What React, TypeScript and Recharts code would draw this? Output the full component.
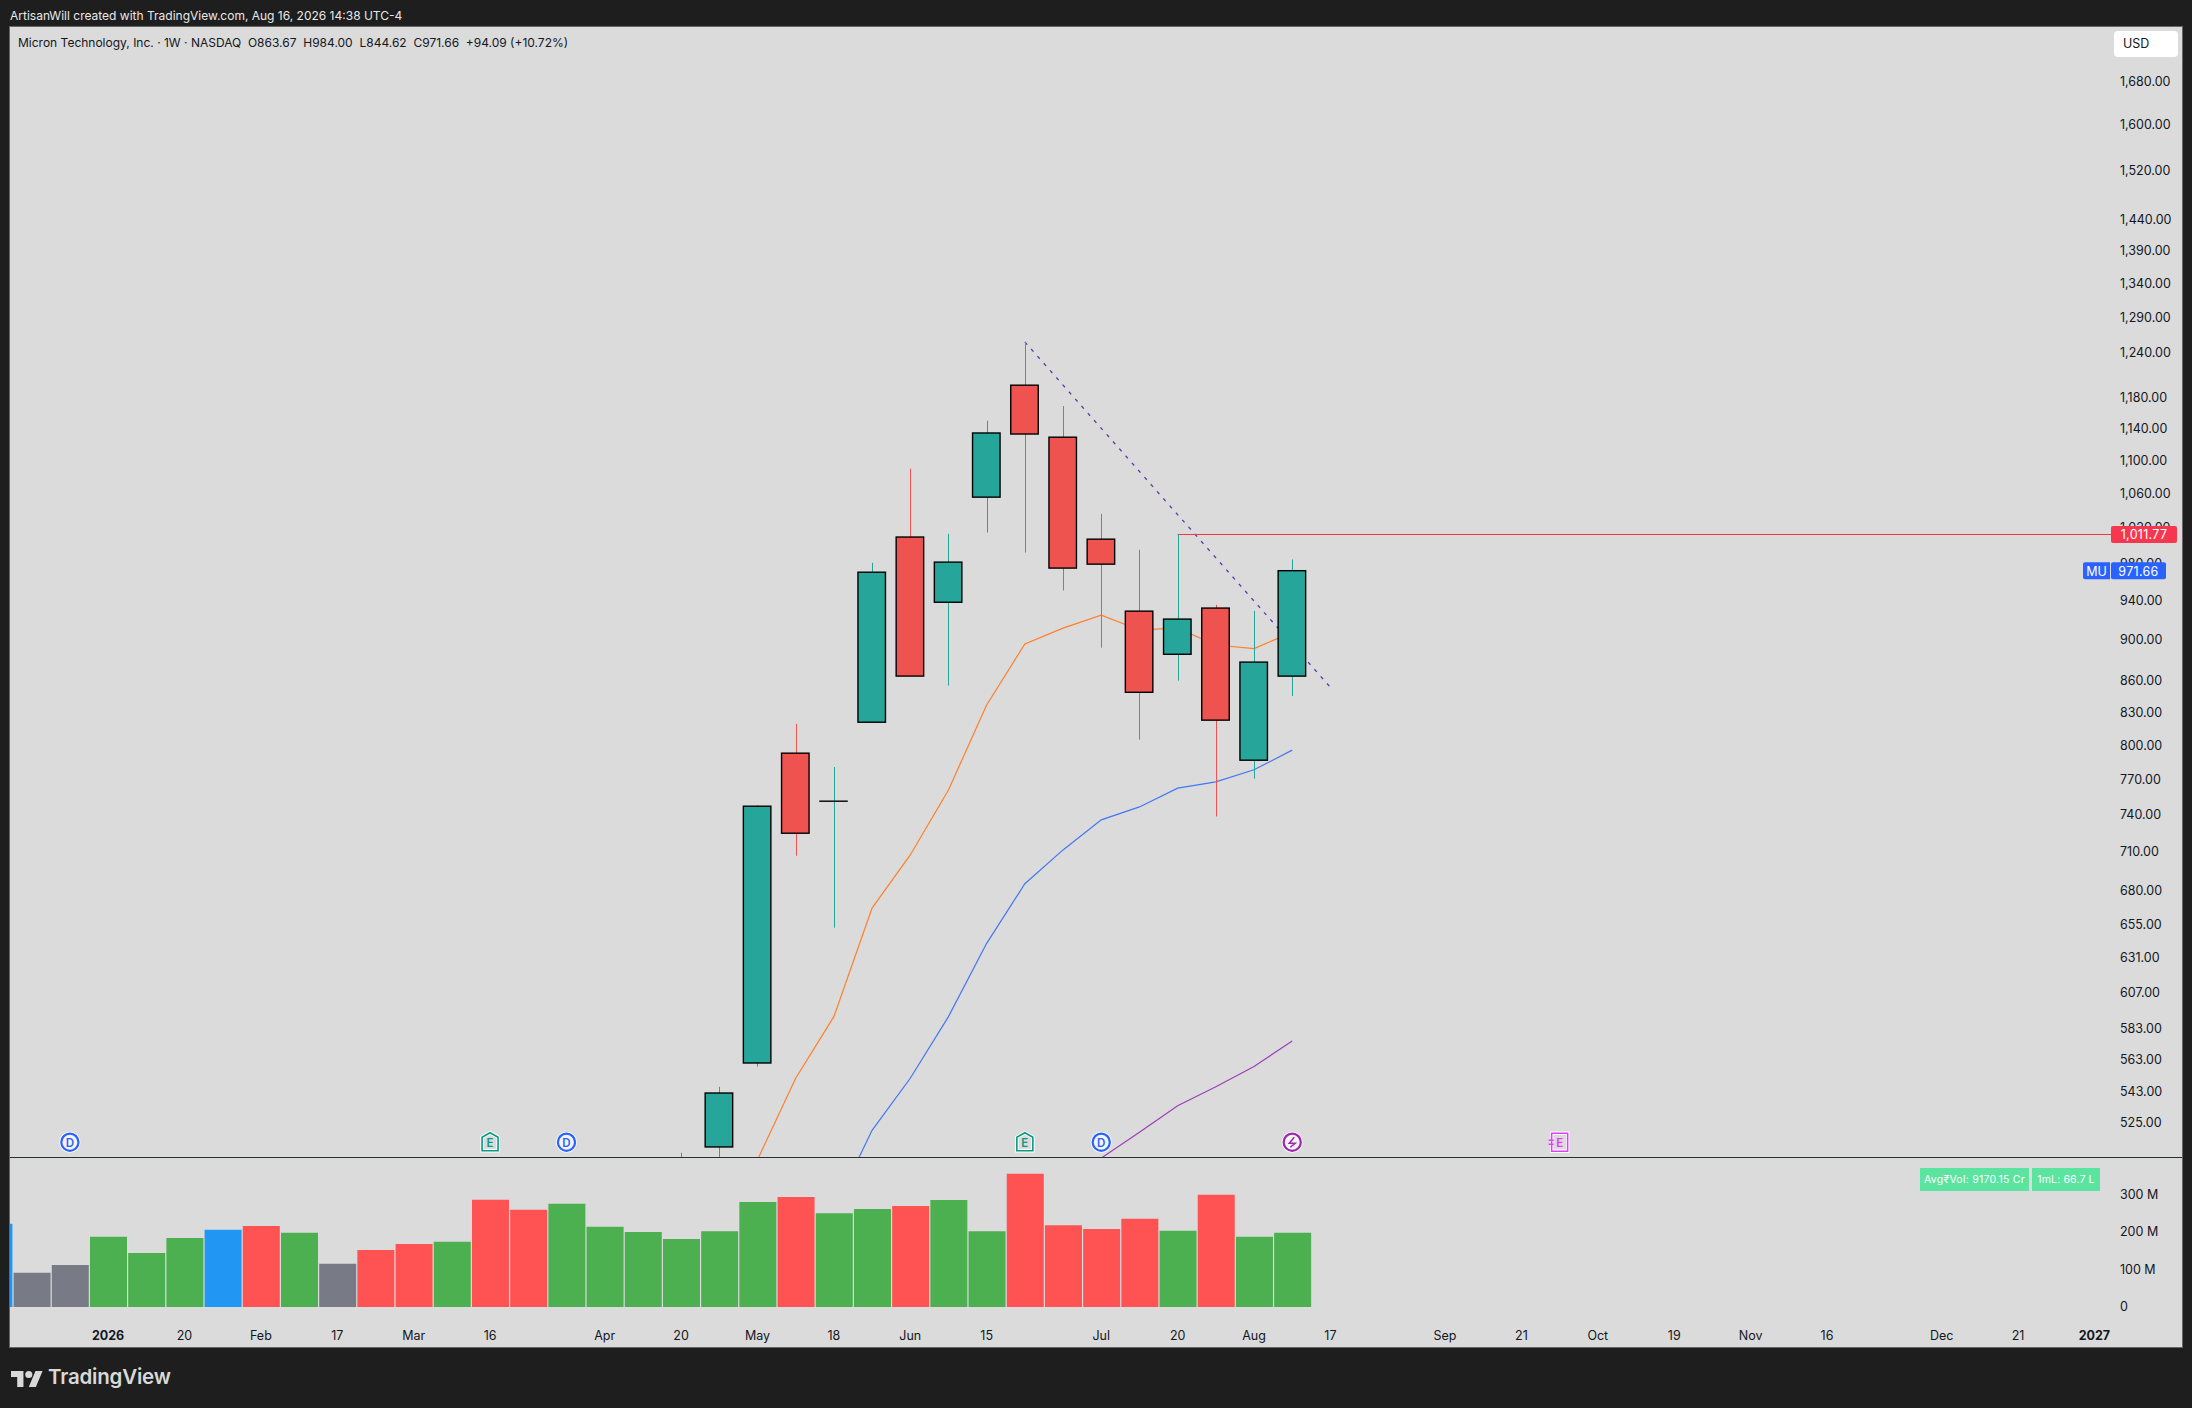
import { ComposedChart, Bar, Line, XAxis, YAxis, Cell, ReferenceLine, ReferenceDot } from 'recharts'

const FONT = 'Inter, "Liberation Sans", sans-serif'
const BG = '#dbdbdb'
const UP = '#26a69a'
const DOWN = '#ef5350'

// week numbers, 0 = the bar of Dec 22 2025
const candleWeeks = [17, 18, 19, 20, 21, 22, 23, 24, 25, 26, 27, 28, 29, 30, 31, 32, 33]
const opens = [481, 510.3, 560.5, 792.4, 751, 820.3, 1008.9, 938, 1054.9, 1195.5, 1128, 1006.5, 928.7, 885, 931.9, 786.2, 863.67]
const highs = [507, 545.8, 747.5, 818.8, 780.3, 980.3, 1089, 1012.5, 1149, 1254.7, 1168, 1035.4, 994.6, 1011.77, 935.3, 929, 984]
const lows = [471, 496, 558.3, 706.6, 652, 820.3, 863.7, 854.6, 1014, 991.5, 950.4, 891.6, 804.5, 859.3, 738.2, 770.1, 844.62]
const closes = [496, 542, 746.8, 724.6, 751, 970, 863.7, 981, 1133.3, 1132, 974.5, 978.8, 848.2, 920.5, 822.2, 877.3, 971.66]

const fastMa = [null, 460, 503, 551, 590.3, 666.4, 707.2, 760.5, 836.3, 895.3, 911.2, 924.5, 909.4, 911.2, 894.2, 890.6, 907.2]
const midMa = [null, null, null, null, 475.6, 519.9, 551, 590.3, 640.7, 684.8, 711.2, 735.5, 746.2, 762, 767.4, 777.8, 795.1]
const slowMa = [null, null, null, null, null, null, null, null, null, null, null, 504, 518.8, 534.4, 545.8, 558.3, 574.5]

const volumeWeeks = [-1, 0, 1, 2, 3, 4, 5, 6, 7, 8, 9, 10, 11, 12, 13, 14, 15, 16, 17, 18, 19, 20, 21, 22, 23, 24, 25, 26, 27, 28, 29, 30, 31, 32, 33]
const volumes = [222, 91, 112, 187, 144, 184, 206, 216, 198, 115, 152, 168, 174, 286, 259, 275, 214, 200, 181, 202, 280, 293, 250, 261, 269, 285, 202, 355, 218, 208, 235, 203, 299, 187, 198]
const volumeKinds = ['spike', 'flat', 'flat', 'up', 'up', 'up', 'spike', 'down', 'up', 'flat', 'down', 'down', 'up', 'down', 'down', 'up', 'up', 'up', 'up', 'up', 'up', 'down', 'up', 'up', 'down', 'up', 'up', 'down', 'down', 'down', 'down', 'up', 'down', 'up', 'up']
const volumeColors: Record<string, string> = { up: '#4caf50', down: '#ff5252', flat: '#787b86', spike: '#2196f3' }

const priceTicks = [1680, 1600, 1520, 1440, 1390, 1340, 1290, 1240, 1180, 1140, 1100, 1060, 1020, 980, 940, 900, 860, 830, 800, 770, 740, 710, 680, 655, 631, 607, 583, 563, 543, 525]
const volumeTicks = [0, 100, 200, 300]
const timeTicks = [2, 4, 6, 8, 10, 12, 15, 17, 19, 21, 23, 25, 28, 30, 32, 34, 37, 39, 41, 43, 45, 47, 50, 52, 54]
const timeLabels = ['2026', '20', 'Feb', '17', 'Mar', '16', 'Apr', '20', 'May', '18', 'Jun', '15', 'Jul', '20', 'Aug', '17', 'Sep', '21', 'Oct', '19', 'Nov', '16', 'Dec', '21', '2027']

const events = [
  { week: 1, kind: 'D' },
  { week: 12, kind: 'E' },
  { week: 14, kind: 'D' },
  { week: 26, kind: 'E' },
  { week: 28, kind: 'D' },
  { week: 33, kind: 'S' },
  { week: 40, kind: 'N' },
]

const lastPrice = 971.66
const alertPrice = 1011.77
const trendStart = { x: 26, y: 1254.7 }
const trendEnd = { x: 34, y: 852.9 }
const WEEK_MIN = -0.568
const WEEK_MAX = 54.67
const PRICE_DOMAIN = [504.6, 1784]
const EVENT_PRICE = 513

const candleData = candleWeeks.map((week, i) => ({
  week,
  open: opens[i],
  close: closes[i],
  wick: [lows[i], highs[i]],
  body: [Math.min(opens[i], closes[i]), Math.max(opens[i], closes[i])],
  fast: fastMa[i],
  mid: midMa[i],
  slow: slowMa[i],
}))

const volumeData = volumeWeeks.map((week, i) => ({ week, volume: volumes[i], kind: volumeKinds[i] }))

const formatPrice = (v: number) => v.toLocaleString('en-US', { minimumFractionDigits: 2, maximumFractionDigits: 2 })

function Wick(props: any) {
  const { x, y, width, height, payload } = props
  return <rect x={Math.round(x)} y={y} width={width} height={height} fill={payload.close >= payload.open ? UP : DOWN} />
}

function Body(props: any) {
  const { x, y, width, height, payload } = props
  if (height < 1) {
    return <line x1={x - 0.5} x2={x + width + 0.5} y1={y} y2={y} stroke="#000" strokeWidth={1.4} />
  }
  return (
    <rect
      x={x}
      y={y}
      width={width}
      height={height}
      fill={payload.close >= payload.open ? UP : DOWN}
      stroke="#000"
      strokeWidth={1.4}
    />
  )
}

function PriceTick({ x, y, payload }: any) {
  return (
    <text x={x} y={y + 0.5} dominantBaseline="central" fontFamily={FONT} fontSize={12.5} fill="#131722">
      {formatPrice(payload.value)}
    </text>
  )
}

function TimeTick({ x, y, payload }: any) {
  const label = timeLabels[timeTicks.indexOf(payload.value)]
  const bold = label === '2026' || label === '2027'
  return (
    <text x={x} y={y} textAnchor="middle" dominantBaseline="central" fontFamily={FONT} fontSize={12.5} fontWeight={bold ? 700 : 400} fill="#131722">
      {label}
    </text>
  )
}

function PriceTag({ cx, cy, name, value, color, width }: any) {
  const left = cx - 9
  return (
    <g fontFamily={FONT} fontSize={12.5} fill="#fff">
      {name && (
        <>
          <path d={`M${left - 1},${cy - 8.5}H${left - 26}a2,2 0 0 0 -2,2V${cy + 6.5}a2,2 0 0 0 2,2H${left - 1}Z`} fill={color} />
          <text x={left - 14.5} y={cy + 0.5} textAnchor="middle" dominantBaseline="central">{name}</text>
        </>
      )}
      <rect x={left} y={cy - 8.5} width={width} height={17} rx={2} fill={color} />
      <text x={left + width / 2} y={cy + 0.5} textAnchor="middle" dominantBaseline="central" letterSpacing={0.3}>{value}</text>
    </g>
  )
}

function EventMark({ cx, cy, kind }: any) {
  if (kind === 'E' || kind === 'N') {
    const color = kind === 'E' ? '#089981' : '#e040fb'
    const outline = kind === 'E'
      ? `M${cx},${cy - 9.5}L${cx + 8},${cy - 5}V${cy + 8.5}H${cx - 8}V${cy - 5}Z`
      : `M${cx - 8},${cy - 9}H${cx + 8}V${cy + 9}H${cx - 8}Z`
    return (
      <g fontFamily={FONT}>
        <path d={outline} fill="none" stroke="#fff" strokeWidth={3.4} />
        <path d={outline} fill="none" stroke={color} strokeWidth={1.6} />
        {kind === 'N' && <path d={`M${cx - 11},${cy - 2}h5M${cx - 11},${cy + 2}h5`} stroke={color} strokeWidth={1.3} />}
        <text x={cx} y={cy + 1} textAnchor="middle" dominantBaseline="central" fontSize={11.5} fontWeight={600} fill={color}>E</text>
      </g>
    )
  }
  const color = kind === 'D' ? '#2962ff' : '#9c27b0'
  return (
    <g fontFamily={FONT}>
      <circle cx={cx} cy={cy} r={10.5} fill="#fff" />
      <circle cx={cx} cy={cy} r={8.6} fill="#f4f4f4" stroke={color} strokeWidth={2.2} />
      {kind === 'D' ? (
        <text x={cx} y={cy + 0.5} textAnchor="middle" dominantBaseline="central" fontSize={11.5} fontWeight={600} fill={color}>D</text>
      ) : (
        <path d={`M${cx + 2},${cy - 5}L${cx - 3},${cy + 1}H${cx + 3}L${cx - 2},${cy + 5}`} fill="none" stroke={color} strokeWidth={1.5} />
      )}
    </g>
  )
}

const badgeStyle = {
  position: 'absolute',
  top: 1168,
  height: 23,
  background: '#5ae49f',
  color: '#fff',
  fontSize: 10.5,
  lineHeight: '23px',
  textAlign: 'center',
  whiteSpace: 'nowrap',
} as const

export default function App() {
  return (
    <div style={{ position: 'absolute', left: 0, top: 0, width: 2192, height: 1408, background: '#1e1e1e', fontFamily: FONT, overflow: 'hidden' }}>
      <div style={{ position: 'absolute', left: 10, top: 8, fontSize: 12, color: '#e8e8e8', whiteSpace: 'nowrap' }}>
        ArtisanWill created with TradingView.com, Aug 16, 2026 14:38 UTC-4
      </div>

      <div style={{ position: 'absolute', left: 9, top: 26, width: 2174, height: 1322, background: BG, border: '1px solid #666', boxSizing: 'border-box' }} />

      {/* back layer: scale labels, drawn lines and averages sit under the candles */}
      <div style={{ position: 'absolute', left: 10, top: 27 }}>
        <ComposedChart width={2172} height={1130} data={candleData} margin={{ top: 0, right: 0, bottom: 0, left: 0 }}>
          <XAxis dataKey="week" type="number" domain={[WEEK_MIN, WEEK_MAX]} allowDataOverflow hide height={0} />
          <YAxis
            orientation="right"
            width={62}
            type="number"
            scale="log"
            domain={PRICE_DOMAIN}
            allowDataOverflow
            ticks={priceTicks}
            interval={0}
            axisLine={false}
            tickLine={false}
            tickSize={0}
            tickMargin={0}
            tick={PriceTick}
          />
          <ReferenceLine segment={[trendStart, trendEnd]} stroke="#5e35b1" strokeWidth={1.3} strokeDasharray="3.5 6" />
          <ReferenceLine segment={[{ x: 30, y: alertPrice }, { x: WEEK_MAX, y: alertPrice }]} stroke="#f23645" strokeWidth={1.2} />
          <Line dataKey="fast" stroke="#ff7f2a" strokeWidth={1.2} dot={false} isAnimationActive={false} />
          <Line dataKey="mid" stroke="#4277f5" strokeWidth={1.2} dot={false} isAnimationActive={false} />
          <Line dataKey="slow" stroke="#9c3fb8" strokeWidth={1.2} dot={false} isAnimationActive={false} />
        </ComposedChart>
      </div>

      {/* front layer: candles, event marks and the price tags */}
      <div style={{ position: 'absolute', left: 10, top: 27 }}>
        <ComposedChart width={2172} height={1130} data={candleData} margin={{ top: 0, right: 62, bottom: 0, left: 0 }}>
          <XAxis dataKey="week" type="number" domain={[WEEK_MIN, WEEK_MAX]} allowDataOverflow hide height={0} />
          <XAxis xAxisId="body" dataKey="week" type="number" domain={[WEEK_MIN, WEEK_MAX]} allowDataOverflow hide height={0} />
          <YAxis type="number" scale="log" domain={PRICE_DOMAIN} allowDataOverflow hide />
          <Bar dataKey="wick" barSize={1} shape={Wick} isAnimationActive={false} />
          <Bar xAxisId="body" dataKey="body" barSize={27.5} shape={Body} isAnimationActive={false} />
          {events.map((e) => (
            <ReferenceDot
              key={e.week}
              x={e.week}
              y={EVENT_PRICE}
              ifOverflow="visible"
              shape={(p: any) => <EventMark cx={p.cx} cy={p.cy} kind={e.kind} />}
            />
          ))}
          <ReferenceDot
            x={WEEK_MAX}
            y={alertPrice}
            ifOverflow="visible"
            shape={(p: any) => <PriceTag cx={p.cx} cy={p.cy} value={formatPrice(alertPrice)} color="#f7374f" width={66} />}
          />
          <ReferenceDot
            x={WEEK_MAX}
            y={lastPrice}
            ifOverflow="visible"
            shape={(p: any) => <PriceTag cx={p.cx} cy={p.cy} name="MU" value={formatPrice(lastPrice)} color="#2962ff" width={55} />}
          />
        </ComposedChart>
      </div>

      <div style={{ position: 'absolute', left: 10, top: 1157, width: 2172, height: 1, background: '#2a2e39' }} />

      <div style={{ position: 'absolute', left: 10, top: 1158 }}>
        <ComposedChart width={2172} height={189} data={volumeData} margin={{ top: 0, right: 0, bottom: 0, left: 0 }}>
          <XAxis
            dataKey="week"
            type="number"
            domain={[WEEK_MIN, WEEK_MAX]}
            allowDataOverflow
            ticks={timeTicks}
            interval={0}
            height={40}
            axisLine={false}
            tickLine={false}
            tickSize={0}
            tickMargin={0}
            tick={(p: any) => <TimeTick x={p.x} y={1335 - 1158} payload={p.payload} />}
          />
          <YAxis
            orientation="right"
            width={62}
            type="number"
            domain={[0, 397]}
            allowDataOverflow
            ticks={volumeTicks}
            interval={0}
            tickFormatter={(v: number) => (v === 0 ? '0' : `${v} M`)}
            axisLine={false}
            tickLine={false}
            tickSize={0}
            tickMargin={0}
            tick={{ fontFamily: FONT, fontSize: 12.5, fill: '#131722' }}
          />
          <Bar dataKey="volume" barSize={37} isAnimationActive={false}>
            {volumeData.map((d) => (
              <Cell key={d.week} fill={volumeColors[d.kind]} />
            ))}
          </Bar>
        </ComposedChart>
      </div>

      <div style={{ position: 'absolute', left: 18, top: 35, fontSize: 12, color: '#131722', whiteSpace: 'nowrap' }}>
        Micron Technology, Inc. · 1W · NASDAQ&nbsp; O863.67&nbsp; H984.00&nbsp; L844.62&nbsp; C971.66&nbsp; +94.09 (+10.72%)
      </div>

      <div style={{ position: 'absolute', left: 2114, top: 31, width: 64, height: 26, background: '#fff', borderRadius: 4, fontSize: 12.5, lineHeight: '26px', color: '#131722', paddingLeft: 9, boxSizing: 'border-box' }}>
        USD
      </div>

      <div style={{ ...badgeStyle, left: 1920, width: 109, letterSpacing: 0.25 }}>Avg₹Vol: 9170.15 Cr</div>
      <div style={{ ...badgeStyle, left: 2032, width: 68, letterSpacing: 0.15 }}>1mL: 66.7 L</div>

      <svg style={{ position: 'absolute', left: 11, top: 1369 }} width={32} height={18} viewBox="0 0 36 20">
        <path d="M14 20H7V9H0V2h14v18zM28 20h-8l7.5-18h8L28 20z" fill="#d9d9d9" />
        <circle cx="20" cy="6" r="4" fill="#d9d9d9" />
      </svg>
      <div style={{ position: 'absolute', left: 48, top: 1364, fontSize: 20.5, fontWeight: 600, color: '#d9d9d9', letterSpacing: -0.2, whiteSpace: 'nowrap' }}>
        TradingView
      </div>
    </div>
  )
}
